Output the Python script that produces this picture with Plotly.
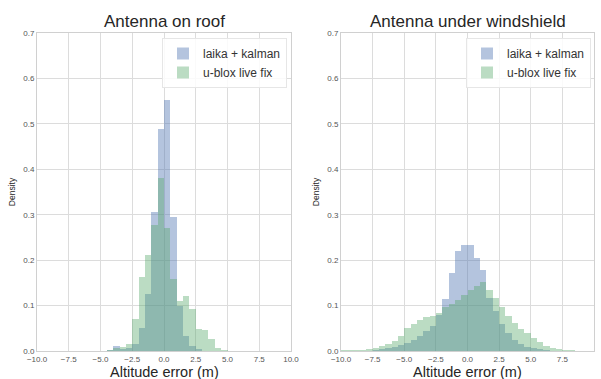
import numpy as np
import plotly.graph_objects as go

# ---- data (densities per 0.5 m bin) ----
BIN_WIDTH = 0.5

roof_bins = [-4.5, -4.0, -3.5, -3.0, -2.5, -2.0, -1.5, -1.0, -0.5, 0.0,
             0.5, 1.0, 1.5, 2.0, 2.5, 3.0, 3.5, 4.0, 4.5]
roof_laika = [0.002, 0.010, 0.004, 0.007, 0.015, 0.050, 0.125, 0.307, 0.489, 0.552,
              0.294, 0.100, 0.033, 0.010, 0.004, 0.000, 0.000, 0.000, 0.000]
roof_ublox = [0.003, 0.006, 0.008, 0.016, 0.070, 0.162, 0.212, 0.278, 0.381, 0.270,
              0.159, 0.109, 0.120, 0.093, 0.049, 0.046, 0.027, 0.006, 0.003]

wind_bins = [-10.0, -9.5, -9.0, -8.5, -8.0, -7.5, -7.0, -6.5, -6.0, -5.5,
             -5.0, -4.5, -4.0, -3.5, -3.0, -2.5, -2.0, -1.5, -1.0, -0.5,
             0.0, 0.5, 1.0, 1.5, 2.0, 2.5, 3.0, 3.5, 4.0, 4.5,
             5.0, 5.5, 6.0, 6.5, 7.0, 7.5, 8.0]
wind_laika = [0.000, 0.000, 0.000, 0.000, 0.001, 0.002, 0.004, 0.006, 0.008, 0.013,
              0.018, 0.025, 0.033, 0.045, 0.056, 0.080, 0.114, 0.172, 0.220, 0.233,
              0.233, 0.204, 0.178, 0.117, 0.089, 0.060, 0.040, 0.025, 0.015, 0.009,
              0.006, 0.004, 0.002, 0.001, 0.000, 0.000, 0.000]
wind_ublox = [0.002, 0.002, 0.002, 0.003, 0.004, 0.006, 0.010, 0.015, 0.022, 0.034,
              0.050, 0.060, 0.068, 0.074, 0.078, 0.083, 0.097, 0.104, 0.113, 0.124,
              0.135, 0.143, 0.152, 0.134, 0.117, 0.097, 0.078, 0.062, 0.049, 0.039,
              0.029, 0.019, 0.012, 0.007, 0.005, 0.003, 0.002]

series_names = ["laika + kalman", "u-blox live fix"]
titles = ["Antenna on roof", "Antenna under windshield"]
x_label = "Altitude error (m)"
y_label = "Density"
x_ticks = [-10.0, -7.5, -5.0, -2.5, 0.0, 2.5, 5.0, 7.5, 10.0]
y_ticks = [0.0, 0.1, 0.2, 0.3, 0.4, 0.5, 0.6, 0.7]

# ---- style ----
BLUE = "rgba(76,114,176,0.42)"
GREEN = "rgba(85,168,104,0.40)"
FONT = "Liberation Sans, Arial, sans-serif"
W, H = 601, 379

fig = go.Figure()

panels = [
    (roof_bins, roof_laika, roof_ublox, "x", "y", "legend"),
    (wind_bins, wind_laika, wind_ublox, "x2", "y2", "legend2"),
]
for bins, laika, ublox, xa, ya, lg in panels:
    centers = np.array(bins) + BIN_WIDTH / 2
    for vals, name, col in ((laika, series_names[0], BLUE), (ublox, series_names[1], GREEN)):
        fig.add_trace(go.Bar(
            x=centers, y=vals, width=BIN_WIDTH, name=name,
            marker=dict(color=col, line=dict(width=0)),
            xaxis=xa, yaxis=ya, legend=lg, hoverinfo="x+y",
        ))

def px_x(p):
    return p / W

def px_y(p):
    return 1 - p / H

axis_common = dict(
    showgrid=True, gridcolor="#dcdcdc", gridwidth=1,
    showline=True, linecolor="#d0d0d0", linewidth=1, mirror=True,
    zeroline=False, ticks="", automargin=False,
    tickfont=dict(family=FONT, size=8, color="#555555"),
)

xdom = [[px_x(37), px_x(291)], [px_x(341), px_x(594)]]
ydom = [px_y(351), px_y(33)]

for i, (xk, yk) in enumerate([("xaxis", "yaxis"), ("xaxis2", "yaxis2")]):
    xd = "x domain" if i == 0 else "x2 domain"
    yd = "y domain" if i == 0 else "y2 domain"
    fig.layout[xk] = dict(
        axis_common, domain=xdom[i], range=[-10, 10],
        tickvals=x_ticks, tickformat=".1f",
        anchor="y" if i == 0 else "y2",
    )
    fig.layout[yk] = dict(
        axis_common, domain=ydom, range=[0, 0.7],
        tickvals=y_ticks, tickformat=".1f",
        anchor="x" if i == 0 else "x2",
        title=dict(text=y_label, font=dict(family=FONT, size=8.5, color="#262626"), standoff=6),
    )
    fig.add_annotation(
        text=titles[i], xref=xd, yref=yd,
        x=0.5, y=1.0, xanchor="center", yanchor="bottom", yshift=0,
        showarrow=False, font=dict(family=FONT, size=17, color="#262626"),
    )
    fig.add_annotation(
        text=x_label, xref=xd, yref=yd,
        x=0.5, y=0.0, xanchor="center", yanchor="top", yshift=-11,
        showarrow=False, font=dict(family=FONT, size=14.5, color="#262626"),
    )

legend_style = dict(
    bgcolor="rgba(255,255,255,0.85)", bordercolor="#e6e6e6", borderwidth=1,
    font=dict(family=FONT, size=12, color="#333333"),
    xanchor="right", yanchor="top", itemwidth=30,
)

fig.update_layout(
    width=W, height=H,
    margin=dict(l=0, r=0, t=0, b=0),
    paper_bgcolor="white", plot_bgcolor="white",
    barmode="overlay", bargap=0,
    legend=dict(legend_style, x=px_x(287), y=px_y(38)),
    legend2=dict(legend_style, x=px_x(591), y=px_y(38)),
)

fig.write_html(
    "out.html",
    config={"displayModeBar": False},
    post_script="document.body.style.margin='0px';document.body.style.overflow='hidden';",
)
